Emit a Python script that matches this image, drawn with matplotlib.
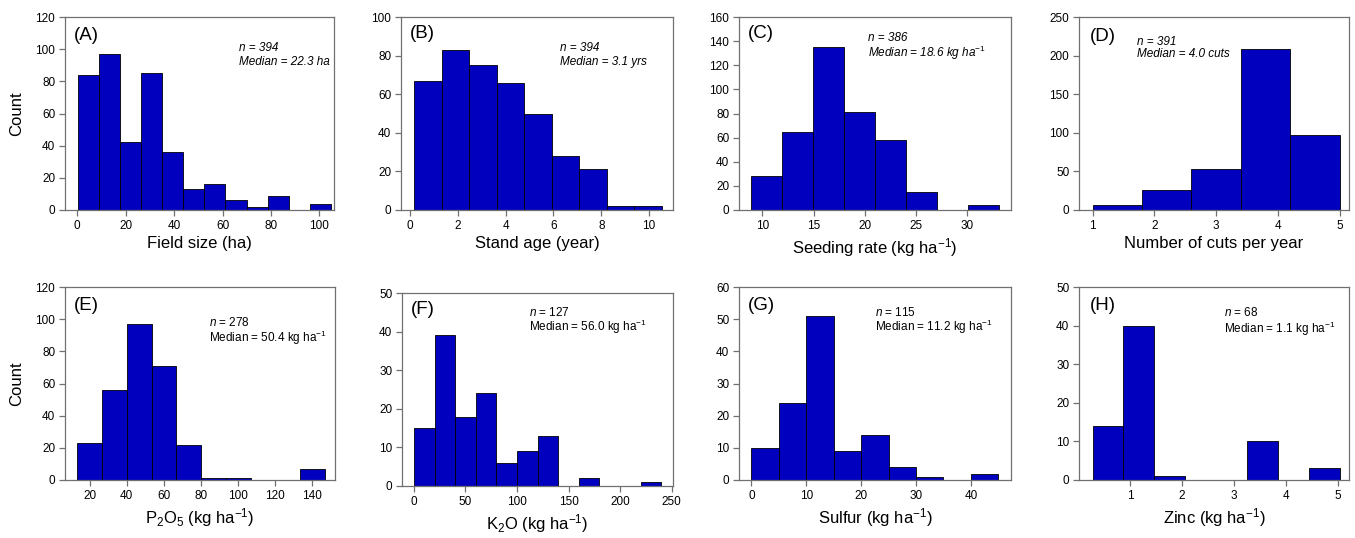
import numpy as np
import matplotlib
matplotlib.use("Agg")
import matplotlib.pyplot as plt

plt.rcParams['font.family'] = ['Liberation Sans', 'DejaVu Sans']
plt.rcParams['mathtext.fontset'] = 'custom'
plt.rcParams['mathtext.rm'] = 'Liberation Sans'
plt.rcParams['mathtext.it'] = 'Liberation Sans:italic'

# histogram data: bin start, bin width, counts
field_start, field_width = 0.3, 8.7
field_counts = [84, 97, 42, 85, 36, 13, 16, 6, 2, 9, 0, 4]

age_start, age_width = 0.17, 1.152
age_counts = [67, 83, 75, 66, 50, 28, 21, 2, 2]

seed_start, seed_width = 8.92, 3.03
seed_counts = [28, 65, 135, 81, 58, 15, 0, 4]

cuts_start, cuts_width = 1.0, 0.8
cuts_counts = [7, 26, 53, 208, 97]

p_start, p_width = 13.3, 13.35
p_counts = [23, 56, 97, 71, 22, 1, 1, 0, 0, 7]

k_start, k_width = 0.0, 20.0
k_counts = [15, 39, 18, 24, 6, 9, 13, 0, 2, 0, 0, 1]

s_start, s_width = 0.0, 5.0
s_counts = [10, 24, 51, 9, 14, 4, 1, 0, 2]

zn_start, zn_width = 0.28, 0.5955
zn_counts = [14, 40, 1, 0, 0, 10, 0, 3]

panels = [
    ("(A)", field_start, field_width, field_counts, "Field size (ha)",
     (-5, 106), np.arange(0, 101, 20), (0, 120), np.arange(0, 121, 20)),
    ("(B)", age_start, age_width, age_counts, "Stand age (year)",
     (-0.38, 11.0), np.arange(0, 11, 2), (0, 100), np.arange(0, 101, 20)),
    ("(C)", seed_start, seed_width, seed_counts, "Seeding rate (kg ha$^{-1}$)",
     (7.7, 34.35), np.arange(10, 31, 5), (0, 160), np.arange(0, 161, 20)),
    ("(D)", cuts_start, cuts_width, cuts_counts, "Number of cuts per year",
     (0.78, 5.15), np.arange(1, 6, 1), (0, 250), np.arange(0, 251, 50)),
    ("(E)", p_start, p_width, p_counts, "P$_2$O$_5$ (kg ha$^{-1}$)",
     (6.7, 152.2), np.arange(20, 141, 20), (0, 120), np.arange(0, 121, 20)),
    ("(F)", k_start, k_width, k_counts, "K$_2$O (kg ha$^{-1}$)",
     (-11.6, 251.4), np.arange(0, 251, 50), (0, 50), np.arange(0, 51, 10)),
    ("(G)", s_start, s_width, s_counts, "Sulfur (kg ha$^{-1}$)",
     (-2.25, 47.3), np.arange(0, 41, 10), (0, 60), np.arange(0, 61, 10)),
    ("(H)", zn_start, zn_width, zn_counts, "Zinc (kg ha$^{-1}$)",
     (0.02, 5.22), np.arange(1, 6, 1), (0, 50), np.arange(0, 51, 10)),
]

notes = [
    ("n = 394", "Median = 22.3 ha", "italic"),
    ("n = 394", "Median = 3.1 yrs", "italic"),
    ("n = 386", "Median = 18.6 kg ha$^{-1}$", "italic"),
    ("n = 391", "Median = 4.0 cuts", "italic"),
    ("$n$ = 278", "Median = 50.4 kg ha$^{-1}$", "normal"),
    ("$n$ = 127", "Median = 56.0 kg ha$^{-1}$", "normal"),
    ("$n$ = 115", "Median = 11.2 kg ha$^{-1}$", "normal"),
    ("$n$ = 68", "Median = 1.1 kg ha$^{-1}$", "normal"),
]

W, H = 1355, 538
# axes boxes in pixels: left, right, top, bottom
boxes = [(65, 334, 17, 210), (401, 673, 17, 210), (739, 1011, 17, 210), (1079, 1349, 17, 210),
         (65, 335, 287, 480), (402, 673, 293, 486), (739, 1011, 287, 480), (1079, 1349, 287, 480)]
label_pos = [(74, 35), (410, 33), (748, 33), (1090, 37),
             (74, 305), (411, 310), (748, 305), (1090, 305)]
note_pos = [(239, 48, 62), (560, 48, 62), (868, 38, 53), (1137, 42, 54),
            (209, 322, 338), (529, 313, 327), (875, 312, 327), (1224, 313, 329)]

fig = plt.figure(figsize=(W / 100, H / 100), dpi=100)
spine_col = '#707070'

for i, (lab, start, width, counts, xlab, xl, xt, yl, yt) in enumerate(panels):
    l, r, t, b = boxes[i]
    ax = fig.add_axes([l / W, 1 - b / H, (r - l) / W, (b - t) / H])
    counts = np.array(counts)
    lefts = start + width * np.arange(len(counts))
    keep = counts > 0
    ax.bar(lefts[keep], counts[keep], width=width, align='edge',
           color='#0000BE', edgecolor='black', linewidth=0.6)
    ax.set_xlim(*xl)
    ax.set_ylim(*yl)
    ax.set_xticks(xt)
    ax.set_yticks(yt)
    for sp in ax.spines.values():
        sp.set_color(spine_col)
        sp.set_linewidth(0.9)
    ax.tick_params(direction='out', length=4, width=0.9, color=spine_col,
                   labelsize=8.5, pad=3)
    ax.set_xlabel(xlab, fontsize=12, labelpad=3)
    if i in (0, 4):
        ax.set_ylabel("Count", fontsize=12, labelpad=8)

    lx, ly = label_pos[i]
    fig.text(lx / W, 1 - ly / H, lab, fontsize=13.5, va='center', ha='left')
    nx, ny1, ny2 = note_pos[i]
    n_txt, m_txt, style = notes[i]
    fig.text(nx / W, 1 - ny1 / H, n_txt, fontsize=8.5, style=style, va='center', ha='left')
    fig.text(nx / W, 1 - ny2 / H, m_txt, fontsize=8.5, style=style, va='center', ha='left')

fig.savefig("out.png", dpi=100)
